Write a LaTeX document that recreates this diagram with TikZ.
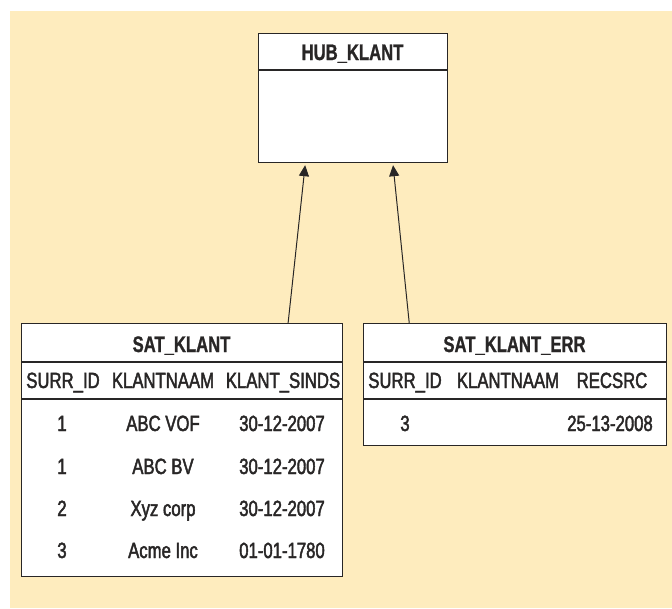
\documentclass[tikz,border=0pt]{standalone}
\usepackage{fontspec}
\usetikzlibrary{arrows.meta,calc}
\newfontfamily\titlefont[FakeStretch=0.74, FakeBold=1]{Liberation Sans}
\newfontfamily\cellfont[FakeStretch=0.76, FakeBold=2]{Liberation Sans}
\definecolor{bgcream}{RGB}{254,236,190}
\definecolor{inkgray}{RGB}{40,38,38}

\begin{document}
\begin{tikzpicture}[x=1pt, y=-1pt]
	\tikzstyle{tablebox} = [draw=inkgray, line width=1.2pt, fill=white, anchor=north west, inner sep=0pt]
	\tikzstyle{tabletitle} = [anchor=base, inner sep=0pt, text=inkgray, font=\titlefont\bfseries\fontsize{22.5}{26}\selectfont]
	\tikzstyle{tablecell} = [anchor=base, inner sep=0pt, text=inkgray, font=\cellfont\fontsize{22}{26}\selectfont]
	\useasboundingbox (0,0) rectangle (672,608);
	\fill[bgcream] (10,11) rectangle (672,608);
	\node[tablebox, minimum width=189pt, minimum height=129pt] (hub) at (258,33) {};
	\node[tablebox, minimum width=321pt, minimum height=253pt] (satk) at (21,323) {};
	\node[tablebox, minimum width=303pt, minimum height=122pt] (sate) at (363,323) {};
	\draw[inkgray, line width=1.2pt] ([yshift=-37pt]hub.north west) -- ([yshift=-37pt]hub.north east);
	\draw[inkgray, line width=1.2pt] ([yshift=-39pt]satk.north west) -- ([yshift=-39pt]satk.north east);
	\draw[inkgray, line width=1.2pt] ([yshift=-76pt]satk.north west) -- ([yshift=-76pt]satk.north east);
	\draw[inkgray, line width=1.2pt] ([yshift=-39pt]sate.north west) -- ([yshift=-39pt]sate.north east);
	\draw[inkgray, line width=1.2pt] ([yshift=-76pt]sate.north west) -- ([yshift=-76pt]sate.north east);
	\node[tabletitle] (hubtitle) at (352.5,60) {HUB\_KLANT};
	\node[tabletitle] (satktitle) at (181.5,352) {SAT\_KLANT};
	\node[tabletitle] (satetitle) at (514.5,352) {SAT\_KLANT\_ERR};
	\node[tablecell] (satkcol1) at (63,388) {SURR\_ID};
	\node[tablecell] (satkcol2) at (163,388) {KLANTNAAM};
	\node[tablecell] (satkcol3) at (283,388) {KLANT\_SINDS};
	\node[tablecell] (satecol1) at (405,388) {SURR\_ID};
	\node[tablecell] (satecol2) at (508,388) {KLANTNAAM};
	\node[tablecell] (satecol3) at (612,388) {RECSRC};
	\node[tablecell] (satka1) at (62,431) {1};
	\node[tablecell] (satka2) at (163,431) {ABC VOF};
	\node[tablecell] (satka3) at (282,431) {30-12-2007};
	\node[tablecell] (satkb1) at (62,474) {1};
	\node[tablecell] (satkb2) at (163,474) {ABC BV};
	\node[tablecell] (satkb3) at (282,474) {30-12-2007};
	\node[tablecell] (satkc1) at (62,516) {2};
	\node[tablecell] (satkc2) at (163,516) {Xyz corp};
	\node[tablecell] (satkc3) at (282,516) {30-12-2007};
	\node[tablecell] (satkd1) at (62,558) {3};
	\node[tablecell] (satkd2) at (163,558) {Acme Inc};
	\node[tablecell] (satkd3) at (282,558) {01-01-1780};
	\node[tablecell] (satea1) at (405,431) {3};
	\node[tablecell] (satea3) at (610,431) {25-13-2008};
	\draw [-{Triangle[length=11pt,width=10pt]}, inkgray, line width=1pt, shorten >=2pt] ($(satk.north west)!0.829!(satk.north east)$) -- ($(hub.south west)!0.249!(hub.south east)$);
	\draw [-{Triangle[length=11pt,width=10pt]}, inkgray, line width=1pt, shorten >=2pt] ($(sate.north west)!0.152!(sate.north east)$) -- ($(hub.south west)!0.709!(hub.south east)$);
\end{tikzpicture}
\end{document}
